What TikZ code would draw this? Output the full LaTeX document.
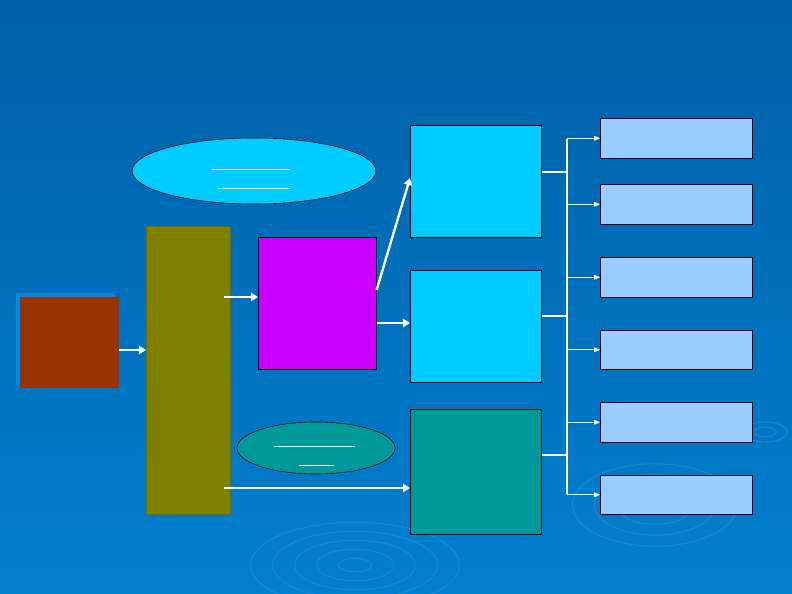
\documentclass[tikz,border=0pt]{standalone}
\usetikzlibrary{arrows.meta,shadings,shapes.geometric}
\definecolor{bgtop}{RGB}{0,96,168}
\definecolor{bgbot}{RGB}{0,128,208}
\definecolor{ripple}{RGB}{60,150,215}
\definecolor{shadowb}{RGB}{0,140,230}
\definecolor{brownc}{RGB}{153,51,0}
\definecolor{olivec}{RGB}{128,128,0}
\definecolor{oliveb}{RGB}{110,110,0}
\definecolor{magc}{RGB}{204,0,255}
\definecolor{cyanc}{RGB}{0,204,255}
\definecolor{tealc}{RGB}{0,153,153}
\definecolor{lightb}{RGB}{153,204,255}
\begin{document}
\begin{tikzpicture}[x=0.03cm,y=-0.03cm,
 box/.style={draw=black,line width=0.5pt},
 warrow/.style={draw=white,line width=2pt,-{Triangle[length=6pt,width=7pt]}},
 tarrow/.style={draw=white,line width=0.6pt,-{Triangle[length=5pt,width=4pt]}},
 uline/.style={draw=white,line width=0.6pt}]
\shade[top color=bgtop,bottom color=bgbot] (0,0) rectangle (792,594);
\useasboundingbox (0,0) rectangle (792,594);
\begin{scope}[draw=ripple,line width=0.8pt,opacity=0.5]
\foreach \r in {15,35,55,75,95}{\draw (355,565) ellipse ({\r*1.1} and {\r*0.45});}
\foreach \r in {15,35,55,75}{\draw (655,505) ellipse ({\r*1.1} and {\r*0.55});}
\foreach \r in {10,20}{\draw (765,432) ellipse ({\r*1.1} and {\r*0.5});}
\end{scope}
\fill[shadowb] (16,293) rectangle (115,384);
\node[fill=brownc,minimum width=99*0.03cm,minimum height=91*0.03cm,inner sep=0,anchor=north west] (brown) at (20,297) {};
\node[fill=olivec,draw=oliveb,minimum width=84*0.03cm,minimum height=288*0.03cm,inner sep=0,anchor=north west] (olive) at (146,226) {};
\node[box,fill=magc,minimum width=118*0.03cm,minimum height=132*0.03cm,inner sep=0,anchor=north west] (mag) at (258,237) {};
\node[box,fill=cyanc,minimum width=131*0.03cm,minimum height=112*0.03cm,inner sep=0,anchor=north west] (c1) at (410,125) {};
\node[box,fill=cyanc,minimum width=131*0.03cm,minimum height=112*0.03cm,inner sep=0,anchor=north west] (c2) at (410,270) {};
\node[box,fill=tealc,minimum width=131*0.03cm,minimum height=125*0.03cm,inner sep=0,anchor=north west] (c3) at (410,409) {};
\foreach \n/\y/\h in {r1/118/40,r2/184/40,r3/257/40,r4/330/39,r5/402/40,r6/475/39}{
 \node[box,fill=lightb,minimum width=152*0.03cm,minimum height=\h*0.03cm,inner sep=0,anchor=north west] (\n) at (600,\y) {};}
\node[box,fill=cyanc,ellipse,minimum width=244*0.03cm,minimum height=66*0.03cm,inner sep=0] (e1) at (254,171) {};
\draw[uline] (212,169) -- (290,169) (218,188) -- (290,188);
\node[box,fill=tealc,ellipse,minimum width=158*0.03cm,minimum height=52*0.03cm,inner sep=0] (e2) at (316,448) {};
\draw[uline] (274,446) -- (355,446) (299,465) -- (334,465);
\coordinate (a1) at (224,297); \coordinate (a2) at (224,488);
\draw[warrow] (brown.east|-0,350) -- (olive.west|-0,350);
\draw[warrow] (a1) -- (mag.west|-a1);
\draw[warrow] (mag.east|-0,290) -- (c1.west|-0,178);
\draw[warrow] (mag.east|-0,323) -- (c2.west|-0,323);
\draw[warrow] (a2) -- (c3.west|-a2);
\coordinate (bt) at (567,139); \coordinate (bb) at (567,494);
\draw[white,line width=2pt] (bt) -- (bb);
\draw[white,line width=2pt] (c1.east|-0,172) -- (567,172) (c2.east|-0,316) -- (567,316) (c3.east|-0,455) -- (567,455);
\foreach \n in {r1,r2,r3,r4,r5,r6}{\draw[tarrow] (bt|-\n.west) -- (\n.west);}
\end{tikzpicture}
\end{document}
